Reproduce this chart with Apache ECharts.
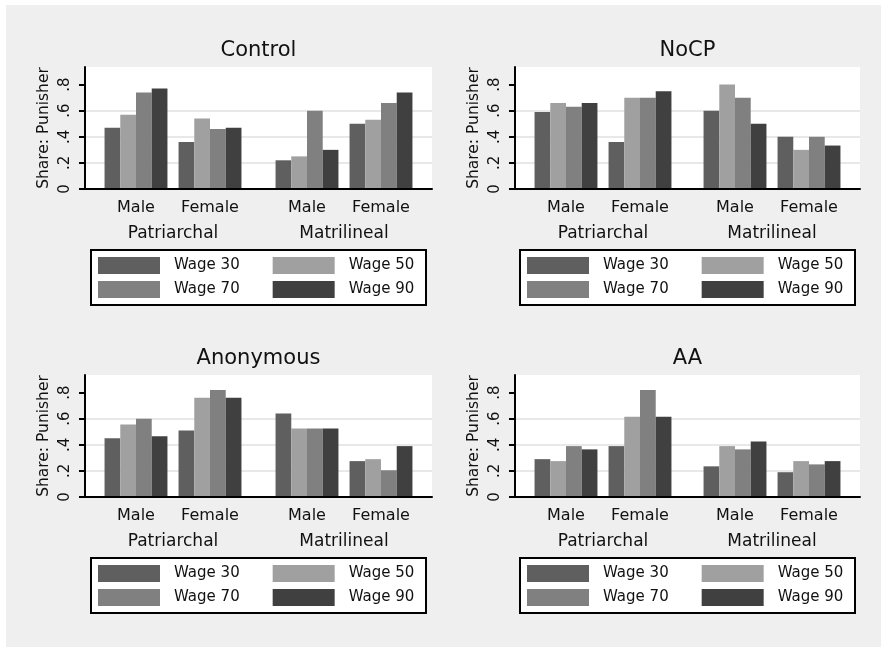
<!DOCTYPE html>
<html><head><meta charset="utf-8">
<script src="https://cdn.jsdelivr.net/npm/echarts@6/dist/echarts.min.js"></script>
<style>
html,body{margin:0;padding:0;background:#fff;}
#c{position:absolute;left:0;top:0;width:881px;height:647px;background:#efefef;box-shadow:inset 6px 5px 0 0 #fff;}
</style></head><body><div id="c"></div>
<script>
const panelTitles = ['Control', 'NoCP', 'Anonymous', 'AA'];
const genders = ['Male', 'Female'];
const systems = ['Patriarchal', 'Matrilineal'];
const wages = ['Wage 30', 'Wage 50', 'Wage 70', 'Wage 90'];
const yTicks = [0, 0.2, 0.4, 0.6, 0.8];
const yTitle = 'Share: Punisher';

// one row per wage: [Patriarchal Male, Patriarchal Female, Matrilineal Male, Matrilineal Female]
const control = [
  [0.47, 0.36, 0.22, 0.50],
  [0.57, 0.54, 0.25, 0.53],
  [0.74, 0.46, 0.60, 0.66],
  [0.77, 0.47, 0.30, 0.74]
];
const noCP = [
  [0.59, 0.36, 0.60, 0.40],
  [0.66, 0.70, 0.80, 0.30],
  [0.63, 0.70, 0.70, 0.40],
  [0.66, 0.75, 0.50, 0.333]
];
const anonymous = [
  [0.45, 0.51, 0.64, 0.275],
  [0.555, 0.76, 0.525, 0.29],
  [0.60, 0.82, 0.525, 0.205],
  [0.465, 0.76, 0.525, 0.39]
];
const aa = [
  [0.29, 0.39, 0.235, 0.19],
  [0.275, 0.615, 0.39, 0.275],
  [0.39, 0.82, 0.365, 0.25],
  [0.365, 0.615, 0.425, 0.275]
];
const panelData = [control, noCP, anonymous, aa];

const barColors = ['#5f5f5f', '#a0a0a0', '#808080', '#404040'];
const FONT = 'DejaVu Sans';
const TXT = '#111';
const YMAX = 0.935;
const plots = [
  { x: 85, y: 67, w: 347, h: 122 },
  { x: 515, y: 67, w: 345, h: 122 },
  { x: 85, y: 375, w: 347, h: 122 },
  { x: 515, y: 375, w: 345, h: 122 }
];
const SUBW = 148, SUBPAD = 14;

const grid = [], xAxis = [], yAxis = [], series = [], title = [], legend = [], graphic = [];
const fmt = v => v === 0 ? '0' : String(+v.toFixed(1)).replace(/^0/, '');

plots.forEach((p, pi) => {
  const vals = panelData[pi];
  const cx = p.x + p.w / 2;
  const g0 = grid.length;
  grid.push({ left: p.x, top: p.y, width: p.w, height: p.h, show: true, backgroundColor: '#fff', borderWidth: 0 });
  xAxis.push({ gridIndex: g0, type: 'category', data: [''], z: 5,
    axisLine: { lineStyle: { color: '#000', width: 2 } }, axisTick: { show: false },
    axisLabel: { show: false }, splitLine: { show: false } });
  yAxis.push({ gridIndex: g0, type: 'value', min: 0, max: YMAX, interval: 0.2,
    axisLine: { show: true, lineStyle: { color: '#000', width: 2 } },
    axisTick: { show: true, length: 6, customValues: yTicks, lineStyle: { color: '#000', width: 2 } },
    axisLabel: { customValues: yTicks, rotate: 90, margin: 12, formatter: fmt,
      fontFamily: FONT, fontSize: 15, color: TXT },
    splitLine: { show: true, showMaxLine: false, showMinLine: false, lineStyle: { color: '#e8e8e8', width: 2 } },
    name: yTitle, nameLocation: 'middle', nameGap: 33,
    nameTextStyle: { fontFamily: FONT, fontSize: 15.5, color: TXT } });

  systems.forEach((sys, s) => {
    const gi = grid.length;
    const left = s === 0 ? p.x + SUBPAD : p.x + p.w - SUBPAD - SUBW;
    grid.push({ left: left, top: p.y, width: SUBW, height: p.h });
    xAxis.push({ gridIndex: gi, type: 'category', data: genders,
      axisLine: { show: false }, axisTick: { show: false },
      axisLabel: { interval: 0, hideOverlap: false, margin: 11, fontFamily: FONT, fontSize: 16, color: TXT },
      name: sys, nameLocation: 'middle', nameGap: 36,
      nameTextStyle: { fontFamily: FONT, fontSize: 17, color: TXT } });
    yAxis.push({ gridIndex: gi, type: 'value', min: 0, max: YMAX, show: false, splitLine: { show: false } });
    wages.forEach((wname, k) => {
      series.push({ type: 'bar', name: wname, xAxisIndex: gi, yAxisIndex: gi,
        data: [vals[k][2 * s], vals[k][2 * s + 1]],
        itemStyle: { color: barColors[k] }, barGap: '0%', barCategoryGap: '15%',
        silent: true, animation: false });
    });
  });

  title.push({ text: panelTitles[pi], left: cx, top: p.y - 27, textAlign: 'center', padding: 0,
    textStyle: { fontFamily: FONT, fontSize: 21, fontWeight: 'normal', color: TXT } });

  const bx = cx - 167.5, by = p.y + 183;
  graphic.push({ type: 'rect', z: 1, shape: { x: bx, y: by, width: 335, height: 55 },
    style: { fill: '#fff', stroke: '#000', lineWidth: 2 } });
  [[wages[0], wages[1]], [wages[2], wages[3]]].forEach((row, r) => {
    legend.push({ data: row, left: bx + 7, top: by + 7 + r * 24, padding: 0,
      itemWidth: 62, itemHeight: 17, itemGap: 33, icon: 'rect', selectedMode: false,
      textStyle: { fontFamily: FONT, fontSize: 15, color: TXT, padding: [0, 0, 0, 9] } });
  });
});

const chart = echarts.init(document.getElementById('c'), null, { renderer: 'canvas' });
chart.setOption({ animation: false, backgroundColor: 'transparent',
  grid, xAxis, yAxis, series, title, legend, graphic });
</script></body></html>
